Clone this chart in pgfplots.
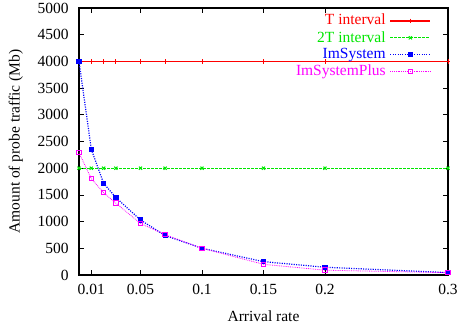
\documentclass[border=0pt]{standalone}
\usepackage{fontspec}
\setmainfont{Liberation Serif}
\usepackage{pgfplots}
\pgfplotsset{compat=1.18}
\definecolor{gpred}{RGB}{255,0,0}
\definecolor{gpgreen}{RGB}{0,230,0}
\definecolor{gpblue}{RGB}{0,0,255}
\definecolor{gpmag}{RGB}{255,0,255}
\begin{document}
\fontsize{15.5}{17}\selectfont
\begin{tikzpicture}
\useasboundingbox (0,0) rectangle (457pt,329pt);
\begin{axis}[
  at={(79pt,54pt)}, anchor=south west,
  scale only axis, width=369pt, height=267pt,
  xmin=0, xmax=0.3, ymin=0, ymax=5000,
  xtick={0.01,0.05,0.1,0.15,0.2,0.3},
  xticklabels={0.01,0.05,0.1,0.15,0.2,0.3},
  ytick={0,500,...,5000},
  yticklabel style={/pgf/number format/fixed,/pgf/number format/1000 sep={}},
  scaled y ticks=false,
  /pgf/number format/assume math mode=true,
  tick align=inside, tick pos=both,
  major tick length=5pt,
  major tick style={draw=black, line width=0.8pt},
  axis line style={draw=black, line width=1.2pt},
  xticklabel style={yshift=-4pt},
  yticklabel style={xshift=-5pt},
  xlabel={Arrival rate}, ylabel={Amount of probe traffic (Mb)},
  xlabel style={at={(axis description cs:0.5,-0.155)}, anchor=center},
  ylabel style={at={(axis description cs:-0.171,0.5)}, anchor=center},
  legend style={draw=none, fill=none, at={(rel axis cs:0.955,0.985)}, anchor=north east,
    legend cell align=right, row sep=0pt, inner sep=0pt, column sep=2pt,
    font=\fontsize{15.5}{16}\selectfont},
  legend plot pos=right,
  legend image code/.code={%
    \draw[mark repeat=2,mark phase=2,#1] plot coordinates {(0pt,0pt) (20pt,0pt) (40pt,0pt)};},
]
\addplot[draw=gpred, line width=1.6pt, solid, mark=+, mark size=2.2pt, mark options={solid, draw=gpred, line width=1pt}] coordinates {
(0,4000) (0.01,4000) (0.02,4000) (0.03,4000) (0.05,4000) (0.07,4000) (0.1,4000) (0.15,4000) (0.2,4000) (0.3,4000)};
\addlegendentry[text=gpred]{T interval}
\addplot[color=gpgreen, line width=1pt, dash pattern=on 2.5pt off 1.5pt, mark=x, mark size=2.2pt, mark options={solid}] coordinates {
(0,2000) (0.01,2000) (0.02,2000) (0.03,2000) (0.05,2000) (0.07,2000) (0.1,2000) (0.15,2000) (0.2,2000) (0.3,2000)};
\addlegendentry[text=gpgreen]{2T interval}
\addplot[color=gpblue, line width=1.2pt, dash pattern=on 1.1pt off 1.3pt, mark=square*, mark size=2pt, mark options={solid}] coordinates {
(0,4000) (0.01,2355) (0.02,1717) (0.03,1450) (0.05,1030) (0.07,740) (0.1,500) (0.15,250) (0.2,145) (0.3,45)};
\addlegendentry[text=gpblue]{ImSystem}
\addplot[color=gpmag, line width=0.8pt, dash pattern=on 0.8pt off 1pt, mark=square, mark size=2.2pt, mark options={solid, line width=1pt}] coordinates {
(0,2290) (0.01,1805) (0.02,1540) (0.03,1345) (0.05,965) (0.07,755) (0.1,500) (0.15,200) (0.2,90) (0.3,43)};
\addlegendentry[text=gpmag]{ImSystemPlus}
\end{axis}
\end{tikzpicture}
\end{document}
